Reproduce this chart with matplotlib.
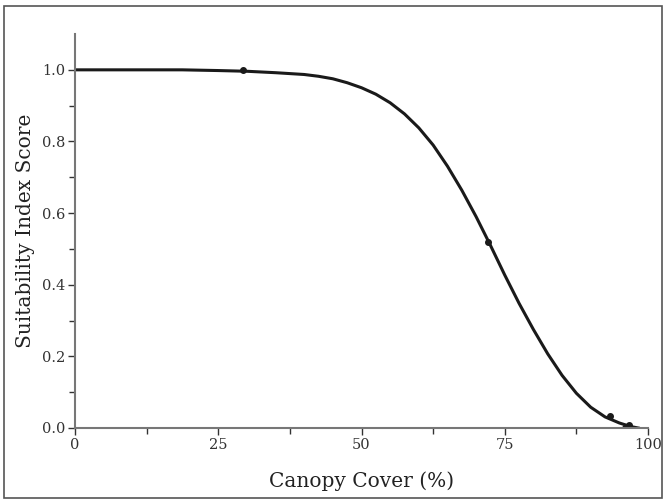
import numpy as np
import matplotlib
matplotlib.use("Agg")
import matplotlib.pyplot as plt
from matplotlib.patches import Rectangle
from matplotlib.ticker import FixedLocator

# fitted curve
curve_x = [0, 10, 18.7, 25, 30, 35, 40, 42.5, 45, 47.5, 50, 52.5, 55, 57.5, 60,
           62.5, 65, 67.5, 70, 72.5, 75, 77.5, 80, 82.5, 85, 87.5, 90, 92.5,
           95, 97, 98.3]
curve_y = [1.0, 1.0, 1.0, 0.998, 0.996, 0.992, 0.987, 0.982, 0.975, 0.964, 0.950,
           0.932, 0.908, 0.877, 0.838, 0.790, 0.731, 0.664, 0.590, 0.510, 0.427,
           0.348, 0.275, 0.207, 0.147, 0.097, 0.058, 0.031, 0.014, 0.004, 0.0]

# observed points
obs_x = [29.3, 72.0, 93.4, 96.6, 96.0]
obs_y = [1.0, 0.52, 0.033, 0.008, 0.0]

plt.rcParams['font.family'] = 'DejaVu Serif'

fig = plt.figure(figsize=(6.66, 5.04), dpi=100)
fig.patches.append(Rectangle((0.006, 0.012), 0.988, 0.976, transform=fig.transFigure,
                             fill=False, ec='#555555', lw=1.2))
ax = fig.add_axes([0.1126, 0.1508, 0.8604, 0.7817])

ax.plot(curve_x, curve_y, color='#1a1a1a', lw=2.2, solid_joinstyle='round')
ax.plot(obs_x, obs_y, 'o', color='#1a1a1a', ms=4)

ax.set_xlim(0, 100)
ax.set_ylim(0, 1.1)
ax.set_xticks([0, 25, 50, 75, 100])
ax.set_yticks([0.0, 0.2, 0.4, 0.6, 0.8, 1.0])
ax.set_yticklabels(['0.0', '0.2', '0.4', '0.6', '0.8', '1.0'])
ax.xaxis.set_minor_locator(FixedLocator([12.5, 37.5, 62.5, 87.5]))
ax.yaxis.set_minor_locator(FixedLocator([0.1, 0.3, 0.5, 0.7, 0.9]))

for s in ['top', 'right']:
    ax.spines[s].set_visible(False)
for s in ['left', 'bottom']:
    ax.spines[s].set_color('#777777')
    ax.spines[s].set_linewidth(1.5)

ax.tick_params(which='major', length=5, width=1, color='#333333', labelsize=10.5,
               labelcolor='#333333', pad=2)
ax.tick_params(which='minor', length=4, width=1, color='#333333')

ax.set_xlabel('Canopy Cover (%)', fontsize=14.5, color='#222222', labelpad=14)
ax.set_ylabel('Suitability Index Score', fontsize=14.5, color='#222222', labelpad=5)

plt.savefig('out.png', dpi=100)
